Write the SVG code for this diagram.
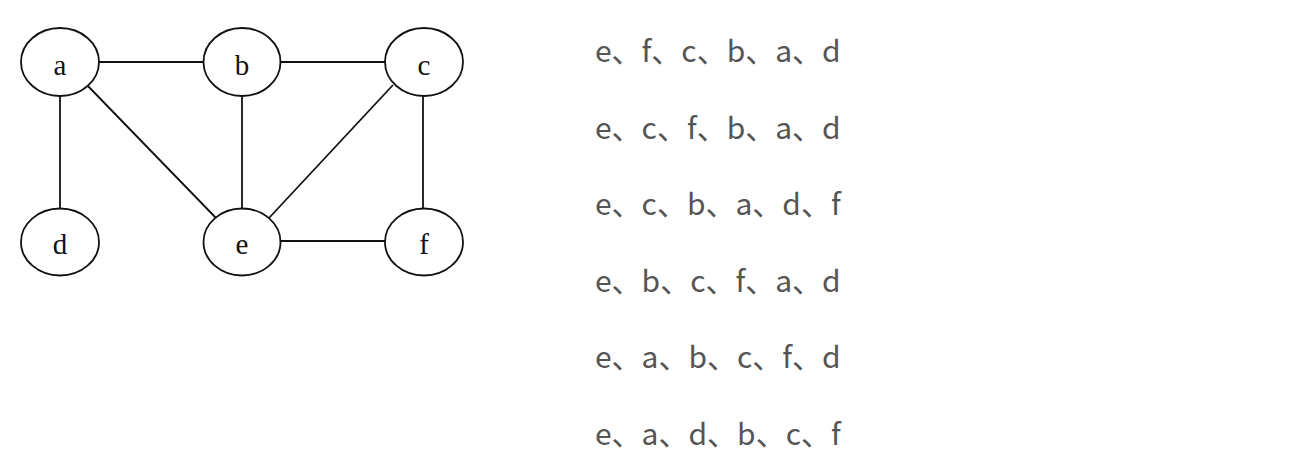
<svg xmlns="http://www.w3.org/2000/svg" width="1295" height="473" viewBox="0 0 1295 473">
<style>
.node ellipse{fill:#fff;stroke:#111;stroke-width:1.8}
.node text{font-family:"Liberation Serif",serif;font-size:29px;fill:#111;text-anchor:middle}
.edges line{stroke:#111;stroke-width:1.8}
.seq{font-family:"Noto Sans CJK SC","Noto Sans",sans-serif;font-size:30px;fill:#555}
</style>
<rect width="1295" height="473" fill="#fff"/>
<g class="edges">
<line x1="99" y1="62" x2="204" y2="62"/>
<line x1="281" y1="62" x2="385" y2="62"/>
<line x1="60" y1="96" x2="60" y2="209"/>
<line x1="86" y1="84" x2="216" y2="218"/>
<line x1="242" y1="96" x2="242" y2="209"/>
<line x1="393" y1="85" x2="269" y2="218"/>
<line x1="423" y1="96" x2="423" y2="209"/>
<line x1="281" y1="241" x2="385" y2="241"/>
</g>
<g id="node-a" class="node"><ellipse cx="60" cy="62" rx="39" ry="34"/><text x="60" y="75">a</text></g>
<g id="node-b" class="node"><ellipse cx="242" cy="62" rx="38.5" ry="34"/><text x="242" y="75">b</text></g>
<g id="node-c" class="node"><ellipse cx="424" cy="62" rx="39" ry="34"/><text x="424" y="75">c</text></g>
<g id="node-d" class="node"><ellipse cx="60" cy="242" rx="39" ry="33.5"/><text x="60" y="254">d</text></g>
<g id="node-e" class="node"><ellipse cx="242" cy="242" rx="38.5" ry="33.5"/><text x="242" y="254">e</text></g>
<g id="node-f" class="node"><ellipse cx="424" cy="242" rx="39" ry="33.5"/><text x="424" y="254">f</text></g>
<g id="sequences">
<text class="seq" x="595" y="62">e、f、c、b、a、d</text>
<text class="seq" x="595" y="138.6">e、c、f、b、a、d</text>
<text class="seq" x="595" y="215.2">e、c、b、a、d、f</text>
<text class="seq" x="595" y="291.8">e、b、c、f、a、d</text>
<text class="seq" x="595" y="368.4">e、a、b、c、f、d</text>
<text class="seq" x="595" y="445">e、a、d、b、c、f</text>
</g>
</svg>
